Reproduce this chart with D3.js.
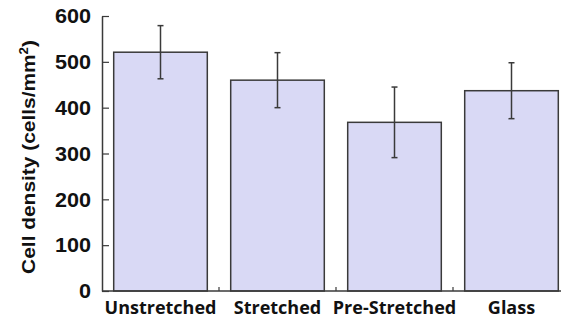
<!DOCTYPE html>
<html>
<head>
<meta charset="utf-8">
<script src="https://cdn.jsdelivr.net/npm/d3@7"></script>
<style>
  html, body { margin: 0; padding: 0; background: #fff; }
  svg { display: block; }
</style>
</head>
<body>
<svg id="chart" width="561" height="322"></svg>
<script>
// Cell density per substrate condition, mean with error half-width
const categories = ["Unstretched", "Stretched", "Pre-Stretched", "Glass"];
const means = [521, 460, 368, 437];
const errors = [58, 60, 77, 61];
const yTicks = [0, 100, 200, 300, 400, 500, 600];

const svg = d3.select("#chart");
const plotLeft = 102, plotRight = 570, plotTop = 16, plotBottom = 291;

const x = d3.scaleBand().domain(categories).range([plotLeft, plotRight]).paddingInner(0.2).paddingOuter(0.1);
const y = d3.scaleLinear().domain([0, 600]).range([plotBottom, plotTop]);

const data = categories.map((c, i) => ({ c, m: means[i], e: errors[i] }));

// bars
svg.append("g").selectAll("rect").data(data).join("rect")
  .attr("x", d => x(d.c))
  .attr("y", d => y(d.m))
  .attr("width", x.bandwidth())
  .attr("height", d => y(0) - y(d.m))
  .attr("fill", "#d9d9f5")
  .attr("stroke", "#3a3a3a")
  .attr("stroke-width", 1.5);

// error bars
const eb = svg.append("g").attr("stroke", "#3a3a3a").attr("stroke-width", 1.5);
data.forEach(d => {
  const cx = x(d.c) + x.bandwidth() / 2;
  eb.append("line").attr("x1", cx).attr("x2", cx).attr("y1", y(d.m + d.e)).attr("y2", y(d.m - d.e));
  eb.append("line").attr("x1", cx - 3).attr("x2", cx + 3).attr("y1", y(d.m + d.e)).attr("y2", y(d.m + d.e));
  eb.append("line").attr("x1", cx - 3).attr("x2", cx + 3).attr("y1", y(d.m - d.e)).attr("y2", y(d.m - d.e));
});

// y axis, ticks pointing inward
const yAxis = svg.append("g").attr("transform", `translate(${plotLeft},0)`)
  .call(d3.axisRight(y).tickValues(yTicks).tickSize(7).tickSizeOuter(0).tickFormat(""));
yAxis.select(".domain").attr("stroke", "#3a3a3a").attr("stroke-width", 1.5);
yAxis.selectAll(".tick line").attr("stroke", "#3a3a3a").attr("stroke-width", 1.2);

svg.append("g").selectAll("text").data(yTicks).join("text")
  .attr("transform", d => `translate(91,${y(d)}) scale(1.08,1)`)
  .attr("dy", "0.36em")
  .attr("text-anchor", "end")
  .attr("font-family", "Liberation Sans, Arial, sans-serif")
  .attr("font-weight", "bold").attr("font-size", 20)
  .attr("fill", "#111")
  .text(d => d);

// x axis with separators between categories
svg.append("line").attr("x1", plotLeft).attr("x2", 561).attr("y1", plotBottom).attr("y2", plotBottom)
  .attr("stroke", "#3a3a3a").attr("stroke-width", 1.5);
const seps = categories.slice(1).map(c => x(c) - x.step() * x.paddingInner() / 2);
svg.append("g").selectAll("line").data(seps).join("line")
  .attr("x1", d => d).attr("x2", d => d).attr("y1", plotBottom).attr("y2", plotBottom - 4)
  .attr("stroke", "#3a3a3a").attr("stroke-width", 1.2);

svg.append("g").selectAll("text").data(categories).join("text")
  .attr("x", d => x(d) + x.bandwidth() / 2).attr("y", 314)
  .attr("text-anchor", "middle")
  .attr("font-family", "Open Sans, sans-serif")
  .attr("font-weight", "bold").attr("font-size", 18)
  .attr("fill", "#111")
  .text(d => d);

// y axis title
const yt = svg.append("text")
  .attr("transform", "translate(35,157) rotate(-90) scale(1.1,1)")
  .attr("text-anchor", "middle")
  .attr("font-family", "Liberation Sans, Arial, sans-serif")
  .attr("font-weight", "bold").attr("font-size", 19)
  .attr("fill", "#111");
yt.append("tspan").text("Cell density (cells/mm");
yt.append("tspan").attr("font-size", 12).attr("dy", -7).text("2");
yt.append("tspan").attr("dy", 7).text(")");
</script>
</body>
</html>
